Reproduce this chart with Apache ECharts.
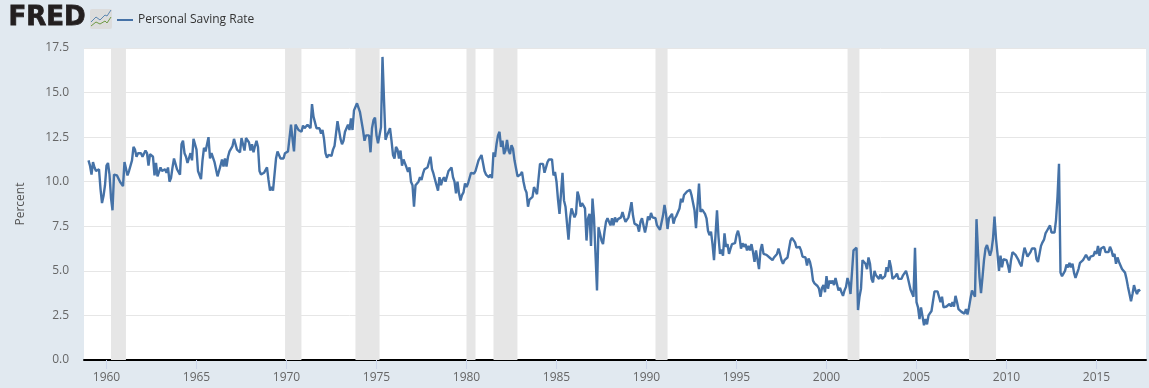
<!DOCTYPE html>
<html>
<head>
<meta charset="utf-8">
<title>Personal Saving Rate</title>
<script src="https://cdn.jsdelivr.net/npm/echarts@6/dist/echarts.min.js"></script>
<style>
  html, body { margin: 0; padding: 0; background: #e1e9f0; }
  #chart { width: 1149px; height: 388px; }
</style>
</head>
<body>
<div id="chart"></div>
<script>
const seriesName = 'Personal Saving Rate'
const firstYear = 1959

// monthly values, from January 1959, one block per decade
const rate1950s = [
  11.2,10.9,10.4,11.1,10.8,10.6,10.6,10.7,9.6,8.8,9.2,9.8
]
const rate1960s = [
  10.9,11.05,10.4,9.1,8.4,10.4,10.4,10.35,10.3,10.0,9.9,9.75,
  11.1,11.1,10.35,10.6,10.7,11.2,11.95,11.8,11.4,11.6,11.65,11.6,
  11.4,11.3,11.75,11.6,10.9,11.55,11.55,11.4,10.35,11.05,10.3,10.2,
  10.8,10.6,10.5,10.7,10.5,10.8,10.0,10.2,10.8,11.3,11.0,10.7,
  10.6,10.4,12.1,12.3,11.6,11.4,11.05,11.05,11.6,11.2,12.4,12.4,
  11.8,10.6,10.5,10.15,11.2,11.9,11.7,11.6,12.5,11.3,11.6,11.65,
  11.1,10.7,10.3,10.2,10.9,11.25,10.85,11.3,10.85,11.4,11.7,11.6,
  12.0,12.4,12.5,11.8,11.85,11.65,12.45,12.45,11.75,12.45,12.45,12.2,
  11.75,12.1,11.65,12.0,12.3,11.95,10.6,10.4,10.4,10.5,10.4,10.8,
  10.1,9.5,9.7,9.5,10.4,11.3,11.7,11.5,11.3,11.4,11.3,11.6
]
const rate1970s = [
  11.7,11.7,11.65,13.2,12.4,11.7,13.2,13.1,12.9,13.0,12.8,13.15,
  13.0,13.1,13.2,13.3,13.0,14.35,13.65,13.55,13.0,12.9,13.0,12.7,
  12.9,12.4,11.6,11.35,11.5,11.45,11.45,11.8,12.0,12.7,13.4,13.45,
  12.4,12.1,12.3,12.8,12.85,13.2,12.9,13.55,12.9,14.0,14.05,14.4,
  14.3,13.9,13.8,12.9,12.3,12.6,12.7,12.6,11.65,13.0,13.45,13.6,
  12.6,12.15,12.2,13.05,17.0,14.6,12.35,12.6,12.7,13.0,12.3,11.5,
  11.3,11.95,11.8,11.3,11.75,10.9,11.25,11.2,10.8,10.55,10.8,10.0,
  9.8,8.6,9.8,9.9,10.0,10.25,10.1,10.45,10.7,10.8,10.8,11.1,
  11.4,10.7,10.45,10.35,9.8,9.5,10.25,9.8,10.1,10.25,10.0,10.0,
  10.6,10.5,10.8,10.25,10.0,9.35,10.0,9.35,8.95,9.25,9.4,9.9
]
const rate1980s = [
  9.7,9.9,9.8,10.5,10.6,10.45,10.6,10.7,11.2,11.1,11.5,11.4,
  10.6,10.4,10.35,10.25,10.4,10.2,11.65,11.4,12.1,12.6,12.8,11.95,
  12.3,11.55,11.75,12.35,11.75,11.55,12.05,11.85,11.2,10.75,10.3,10.35,
  10.4,10.55,10.0,9.6,9.4,8.6,9.0,8.95,9.15,9.7,9.8,9.3,
  9.3,11.0,10.9,11.0,10.5,10.55,11.1,11.25,11.25,11.25,10.35,10.55,
  10.0,9.0,8.2,9.35,10.5,8.95,8.6,7.65,6.75,7.95,8.5,8.4,
  8.0,8.2,9.45,9.15,8.6,8.8,8.8,8.5,6.7,7.95,8.2,6.4,
  9.05,7.95,7.95,3.9,7.45,7.1,6.7,6.5,7.2,7.75,7.95,8.05,
  7.55,7.95,7.55,8.0,7.75,7.9,7.95,8.0,8.3,8.0,7.75,7.75,
  8.0,8.4,8.85,8.1,7.65,7.7,7.55,7.2,7.75,7.95,8.05,7.15
]
const rate1990s = [
  7.55,8.05,7.85,8.25,8.0,8.1,7.95,7.55,7.5,7.3,7.4,8.1,
  8.7,8.2,7.35,7.95,8.05,8.2,7.65,7.95,8.1,8.3,8.5,9.05,
  8.85,9.25,9.35,9.45,9.5,9.55,9.25,9.25,8.4,7.4,7.3,9.9,
  8.3,8.45,8.35,8.2,7.95,7.25,7.0,7.2,6.5,5.6,5.6,8.4,
  6.9,5.95,6.2,5.85,7.1,6.35,6.5,5.95,6.25,6.5,6.5,6.55,
  7.0,7.25,6.9,6.25,6.55,6.35,6.5,6.15,6.4,6.15,6.5,6.05,
  5.5,6.15,6.1,5.1,6.15,6.5,5.95,5.95,5.9,5.8,5.75,5.7,
  5.6,5.75,5.85,5.95,6.25,5.95,5.6,5.4,5.6,5.7,5.75,5.85,
  6.7,6.85,6.95,6.6,6.3,6.25,6.35,6.15,5.8,5.7,5.75,5.3,
  5.7,5.5,5.1,4.45,4.3,4.2,4.15,4.0,3.55,4.05,4.2,3.8
]
const rate2000s = [
  4.7,4.0,4.45,4.3,4.45,4.2,4.6,4.65,3.9,4.05,3.8,3.6,
  3.9,4.1,4.6,4.3,3.7,3.7,6.15,6.25,6.3,2.8,3.55,4.0,
  5.6,5.5,5.4,5.1,5.75,5.4,4.55,4.35,5.0,4.75,4.75,4.55,
  4.8,4.55,4.6,4.7,5.2,4.95,5.6,5.2,4.55,4.55,4.7,4.85,
  4.55,4.5,4.55,4.75,4.75,5.0,4.7,4.6,3.95,3.85,3.55,6.3,
  3.25,2.95,2.3,2.95,2.95,1.95,2.3,2.0,2.5,2.4,2.75,2.8,
  3.85,3.85,3.85,3.55,3.25,3.55,2.95,3.0,3.0,3.1,3.15,3.0,
  3.25,3.0,3.6,3.25,2.85,2.85,2.7,2.8,2.6,2.85,2.55,2.95,
  3.45,3.9,4.0,3.55,7.9,6.05,4.65,3.75,4.65,5.6,6.25,6.45,
  6.45,5.85,6.15,6.8,8.05,6.8,5.95,5.0,5.85,5.2,5.65,5.7
]
const rate2010s = [
  5.6,5.3,4.9,5.6,6.05,5.95,5.9,5.8,5.6,5.4,5.25,5.85,
  6.3,6.4,5.8,5.9,6.05,6.25,6.25,6.25,5.65,5.5,5.6,6.4,
  6.6,6.75,7.1,7.25,7.35,7.55,7.15,7.1,7.15,7.85,9.15,11.0,
  4.9,4.7,4.8,5.0,5.35,5.2,5.45,5.2,5.4,4.9,4.6,4.65,
  5.1,5.45,5.45,5.6,5.75,5.9,5.8,5.6,5.8,5.8,5.85,6.1,
  5.95,6.4,5.85,6.25,6.2,6.35,6.05,6.05,6.05,6.35,6.15,5.8,
  5.95,5.4,5.75,5.5,5.3,5.1,5.1,4.9,4.55,4.1,3.7,3.3,
  3.7,4.2,3.9,3.7,3.95,3.85
]

const yearTicks = [1960, 1965, 1970, 1975, 1980, 1985, 1990, 1995, 2000, 2005, 2010, 2015]
const percentTicks = [0, 2.5, 5, 7.5, 10, 12.5, 15, 17.5]

// NBER recessions, as fractional years
const recessionStart = [1960.25, 1969.92, 1973.83, 1980.0, 1981.5, 1990.5, 2001.17, 2007.92]
const recessionEnd = [1961.08, 1970.83, 1975.17, 1980.5, 1982.83, 1991.17, 2001.83, 2009.42]

const savingRate = [].concat(rate1950s, rate1960s, rate1970s, rate1980s, rate1990s, rate2000s, rate2010s)
const points = savingRate.map(function (v, i) {
  return [firstYear + i / 12, v]
})

const chart = echarts.init(document.getElementById('chart'))
const labelFont = '"Open Sans", sans-serif'

chart.setOption({
  animation: false,
  backgroundColor: '#e1e9f0',
  grid: { left: 84, right: 3, top: 48, bottom: 28, backgroundColor: '#fff', show: true, borderWidth: 0 },
  legend: {
    left: 112,
    top: 9,
    itemWidth: 16,
    itemHeight: 2,
    icon: 'rect',
    itemGap: 5,
    selectedMode: false,
    textStyle: { fontFamily: labelFont, fontSize: 12, color: '#333' },
    data: [seriesName]
  },
  xAxis: {
    type: 'value',
    min: 1958.75,
    max: 2017.75,
    axisLine: { show: true, onZero: false, lineStyle: { color: '#000', width: 2 } },
    axisTick: {
      show: true,
      length: 9,
      lineStyle: { color: '#ccd6eb' },
      customValues: yearTicks
    },
    axisLabel: {
      fontFamily: labelFont,
      fontSize: 12,
      color: '#666',
      margin: 12,
      customValues: yearTicks,
      formatter: function (val) { return String(val) }
    },
    splitLine: { show: false }
  },
  yAxis: {
    type: 'value',
    min: percentTicks[0],
    max: percentTicks[percentTicks.length - 1],
    interval: 2.5,
    name: 'Percent',
    nameLocation: 'middle',
    nameGap: 57,
    nameTextStyle: { fontFamily: labelFont, fontSize: 12, color: '#555' },
    axisLine: { show: false },
    axisTick: { show: false },
    axisLabel: {
      fontFamily: labelFont,
      fontSize: 12,
      color: '#666',
      margin: 15,
      formatter: function (val) { return val.toFixed(1) }
    },
    splitLine: { show: true, lineStyle: { color: '#e6e6e6', width: 1 } }
  },
  series: [
    {
      name: seriesName,
      type: 'line',
      data: points,
      showSymbol: false,
      silent: true,
      lineStyle: { color: '#4572a7', width: 2.4 },
      itemStyle: { color: '#4572a7' },
      markArea: {
        silent: true,
        itemStyle: { color: '#e6e6e6' },
        data: recessionStart.map(function (start, i) {
          return [{ xAxis: start }, { xAxis: recessionEnd[i] }]
        })
      }
    }
  ],
  graphic: [
    {
      type: 'text',
      left: 8,
      top: 5,
      style: {
        text: 'FRED',
        font: 'bold 26px "DejaVu Sans"',
        fill: '#231f20',
        stroke: '#231f20',
        lineWidth: 0.8
      }
    },
    {
      type: 'rect',
      shape: { x: 90, y: 9, width: 22, height: 20, r: 2 },
      style: { fill: '#dcdcdc' }
    },
    {
      type: 'polyline',
      shape: { points: [[91, 22], [96, 17], [100, 20], [105, 15], [107, 16], [111, 10]] },
      style: { stroke: '#5b86b0', lineWidth: 1, fill: null }
    },
    {
      type: 'polyline',
      shape: { points: [[91, 26], [96, 22], [100, 24], [105, 21], [107, 23], [111, 17]] },
      style: { stroke: '#6f9a45', lineWidth: 1, fill: null }
    }
  ]
})
</script>
</body>
</html>
